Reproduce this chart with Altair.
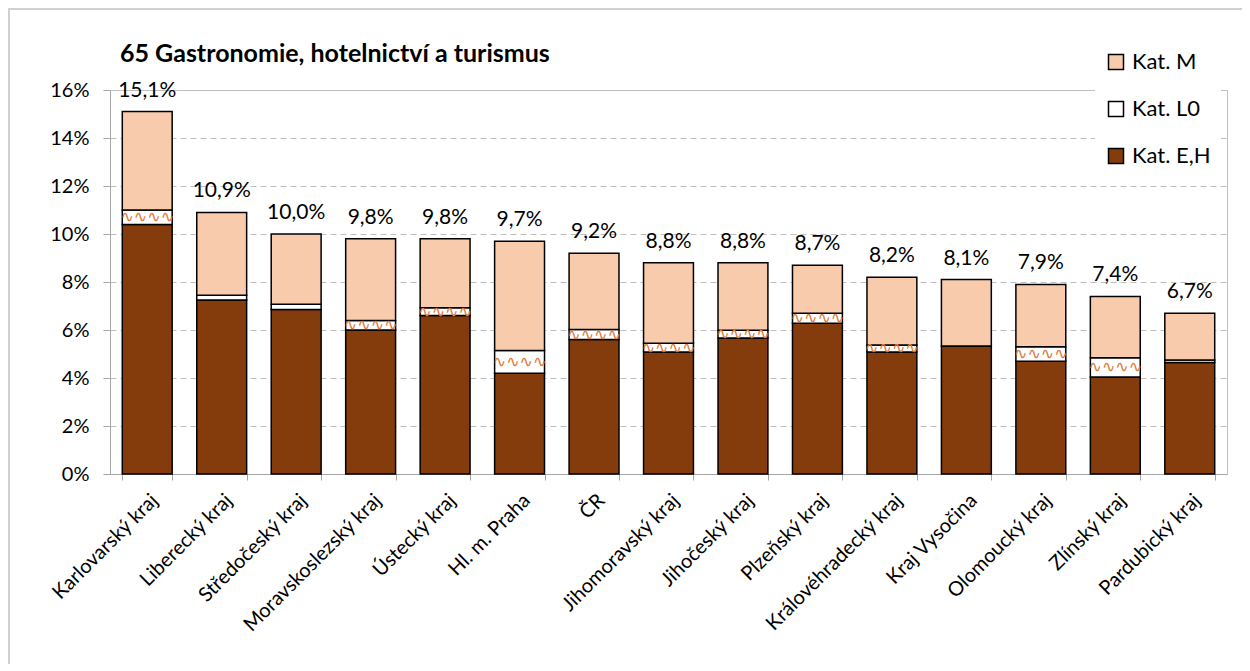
import altair as alt
import pandas as pd

regions = ["Karlovarský kraj", "Liberecký kraj", "Středočeský kraj", "Moravskoslezský kraj",
           "Ústecký kraj", "Hl. m. Praha", "ČR", "Jihomoravský kraj", "Jihočeský kraj",
           "Plzeňský kraj", "Královéhradecký kraj", "Kraj Vysočina", "Olomoucký kraj",
           "Zlínský kraj", "Pardubický kraj"]
kat_eh = [10.4, 7.25, 6.85, 6.0, 6.6, 4.2, 5.6, 5.08, 5.67, 6.28, 5.08, 5.33, 4.7, 4.04, 4.65]
kat_l0 = [0.6, 0.2, 0.22, 0.4, 0.33, 0.95, 0.42, 0.37, 0.32, 0.42, 0.3, 0.0, 0.6, 0.8, 0.1]
totals = [15.1, 10.9, 10.0, 9.8, 9.8, 9.7, 9.2, 8.8, 8.8, 8.7, 8.2, 8.1, 7.9, 7.4, 6.7]
total_labels = ["15,1%", "10,9%", "10,0%", "9,8%", "9,8%", "9,7%", "9,2%", "8,8%", "8,8%",
                "8,7%", "8,2%", "8,1%", "7,9%", "7,4%", "6,7%"]
series = ["Kat. M", "Kat. L0", "Kat. E,H"]
colors = ["#F8CBAD", "#FFFFFF", "#843C0C"]
y_ticks = [0, 0.02, 0.04, 0.06, 0.08, 0.10, 0.12, 0.14, 0.16]
title_text = "65 Gastronomie, hotelnictví a turismus"

rows = []
for i, r in enumerate(regions):
    eh, l0, tot = kat_eh[i], kat_l0[i], totals[i]
    rows.append(dict(region=r, series="Kat. E,H", start=0, end=eh))
    rows.append(dict(region=r, series="Kat. L0", start=eh, end=eh + l0))
    rows.append(dict(region=r, series="Kat. M", start=eh + l0, end=tot))
df = pd.DataFrame(rows)
for c in ["start", "end"]:
    df[c] = df[c] / 100.0

lab = pd.DataFrame(dict(region=regions, total=[t / 100 for t in totals], label=total_labels))
wave = pd.DataFrame(dict(region=regions,
                         mid=[(kat_eh[i] + kat_l0[i] / 2) / 100 for i in range(len(regions))],
                         l0=kat_l0))
wave = wave[wave["l0"] >= 0.3]

FONT = "Lato"
xenc = alt.X("region:N", sort=regions, title=None,
             scale=alt.Scale(paddingInner=0.33, paddingOuter=0.165),
             axis=alt.Axis(labelAngle=-45, labelFontSize=20, labelColor="black",
                           labelFont=FONT, domainColor="#A6A6A6", tickColor="#A6A6A6",
                           tickSize=6, tickBand="extent", labelPadding=10, labelLimit=0))

bars = alt.Chart(df).mark_bar(stroke="black", strokeWidth=1.5).encode(
    x=xenc,
    y=alt.Y("start:Q", title=None,
            scale=alt.Scale(domain=[0, 0.16], nice=False),
            axis=alt.Axis(format=".0%", values=y_ticks,
                          labelFontSize=20, labelColor="black", labelFont=FONT,
                          gridDash=[6, 4], gridColor="#BFBFBF", domainColor="#A6A6A6",
                          tickColor="#A6A6A6", tickSize=7, labelPadding=14)),
    y2="end:Q",
    color=alt.Color("series:N", scale=alt.Scale(domain=series, range=colors),
                    legend=alt.Legend(title=None, orient="none", legendX=985, legendY=-49,
                                      symbolType="square", symbolSize=225,
                                      symbolStrokeColor="black", symbolStrokeWidth=1.5,
                                      labelFontSize=22, labelFont=FONT, labelColor="black",
                                      rowPadding=25, labelOffset=5, padding=10,
                                      fillColor="white")),
)

waves = alt.Chart(wave).mark_text(text="∿∿∿∿", color="#E07B39", fontSize=16,
                                  font="DejaVu Sans", baseline="middle").encode(
    x=alt.X("region:N", sort=regions),
    y=alt.Y("mid:Q"),
)

labels = alt.Chart(lab).mark_text(fontSize=21, font=FONT, color="black", baseline="bottom",
                                  dy=-11).encode(
    x=alt.X("region:N", sort=regions),
    y=alt.Y("total:Q"),
    text="label:N",
)

title = alt.Chart(pd.DataFrame(dict(t=[title_text]))).mark_text(
    fontSize=25, font=FONT, fontWeight="bold", color="black", align="left",
    baseline="alphabetic").encode(x=alt.value(10), y=alt.value(-28), text="t:N")

frame = alt.Chart(pd.DataFrame(dict(t=[0]))).mark_rect(
    fill=None, stroke="#D0D0D0", strokeWidth=2).encode(
    x=alt.value(-101), x2=alt.value(1160), y=alt.value(-81), y2=alt.value(620))

chart = alt.layer(frame, bars, waves, labels, title).properties(
    width=1117, height=384,
    padding={"left": 102, "top": 82, "right": 15, "bottom": 190},
    autosize=alt.AutoSizeParams(type="none"),
).configure_view(stroke="#BFBFBF", strokeWidth=1)

chart.save("out.html", embed_options={"renderer": "svg", "actions": False})
